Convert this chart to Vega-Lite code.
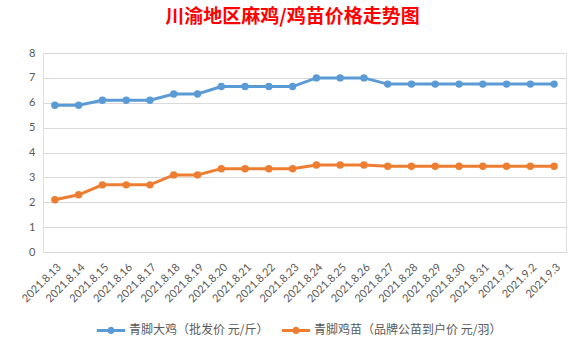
{
  "$schema": "https://vega.github.io/schema/vega-lite/v6.json",
  "width": 523,
  "height": 199,
  "autosize": {"type": "none"},
  "padding": {"left": 43, "top": 53, "right": 19, "bottom": 97},
  "background": "white",
  "title": {
    "text": "川渝地区麻鸡/鸡苗价格走势图",
    "color": "#FF0000",
    "font": "Noto Sans CJK SC",
    "fontSize": 19,
    "fontWeight": "bold",
    "anchor": "middle",
    "offset": 20,
    "dx": -12
  },
  "data": {
    "values": [
      {"date": "2021.8.13", "series": "青脚大鸡（批发价 元/斤）", "price": 5.9},
      {"date": "2021.8.14", "series": "青脚大鸡（批发价 元/斤）", "price": 5.9},
      {"date": "2021.8.15", "series": "青脚大鸡（批发价 元/斤）", "price": 6.1},
      {"date": "2021.8.16", "series": "青脚大鸡（批发价 元/斤）", "price": 6.1},
      {"date": "2021.8.17", "series": "青脚大鸡（批发价 元/斤）", "price": 6.1},
      {"date": "2021.8.18", "series": "青脚大鸡（批发价 元/斤）", "price": 6.35},
      {"date": "2021.8.19", "series": "青脚大鸡（批发价 元/斤）", "price": 6.35},
      {"date": "2021.8.20", "series": "青脚大鸡（批发价 元/斤）", "price": 6.65},
      {"date": "2021.8.21", "series": "青脚大鸡（批发价 元/斤）", "price": 6.65},
      {"date": "2021.8.22", "series": "青脚大鸡（批发价 元/斤）", "price": 6.65},
      {"date": "2021.8.23", "series": "青脚大鸡（批发价 元/斤）", "price": 6.65},
      {"date": "2021.8.24", "series": "青脚大鸡（批发价 元/斤）", "price": 7.0},
      {"date": "2021.8.25", "series": "青脚大鸡（批发价 元/斤）", "price": 7.0},
      {"date": "2021.8.26", "series": "青脚大鸡（批发价 元/斤）", "price": 7.0},
      {"date": "2021.8.27", "series": "青脚大鸡（批发价 元/斤）", "price": 6.75},
      {"date": "2021.8.28", "series": "青脚大鸡（批发价 元/斤）", "price": 6.75},
      {"date": "2021.8.29", "series": "青脚大鸡（批发价 元/斤）", "price": 6.75},
      {"date": "2021.8.30", "series": "青脚大鸡（批发价 元/斤）", "price": 6.75},
      {"date": "2021.8.31", "series": "青脚大鸡（批发价 元/斤）", "price": 6.75},
      {"date": "2021.9.1", "series": "青脚大鸡（批发价 元/斤）", "price": 6.75},
      {"date": "2021.9.2", "series": "青脚大鸡（批发价 元/斤）", "price": 6.75},
      {"date": "2021.9.3", "series": "青脚大鸡（批发价 元/斤）", "price": 6.75},
      {"date": "2021.8.13", "series": "青脚鸡苗（品牌公苗到户价 元/羽）", "price": 2.1},
      {"date": "2021.8.14", "series": "青脚鸡苗（品牌公苗到户价 元/羽）", "price": 2.3},
      {"date": "2021.8.15", "series": "青脚鸡苗（品牌公苗到户价 元/羽）", "price": 2.7},
      {"date": "2021.8.16", "series": "青脚鸡苗（品牌公苗到户价 元/羽）", "price": 2.7},
      {"date": "2021.8.17", "series": "青脚鸡苗（品牌公苗到户价 元/羽）", "price": 2.7},
      {"date": "2021.8.18", "series": "青脚鸡苗（品牌公苗到户价 元/羽）", "price": 3.1},
      {"date": "2021.8.19", "series": "青脚鸡苗（品牌公苗到户价 元/羽）", "price": 3.1},
      {"date": "2021.8.20", "series": "青脚鸡苗（品牌公苗到户价 元/羽）", "price": 3.35},
      {"date": "2021.8.21", "series": "青脚鸡苗（品牌公苗到户价 元/羽）", "price": 3.35},
      {"date": "2021.8.22", "series": "青脚鸡苗（品牌公苗到户价 元/羽）", "price": 3.35},
      {"date": "2021.8.23", "series": "青脚鸡苗（品牌公苗到户价 元/羽）", "price": 3.35},
      {"date": "2021.8.24", "series": "青脚鸡苗（品牌公苗到户价 元/羽）", "price": 3.5},
      {"date": "2021.8.25", "series": "青脚鸡苗（品牌公苗到户价 元/羽）", "price": 3.5},
      {"date": "2021.8.26", "series": "青脚鸡苗（品牌公苗到户价 元/羽）", "price": 3.5},
      {"date": "2021.8.27", "series": "青脚鸡苗（品牌公苗到户价 元/羽）", "price": 3.45},
      {"date": "2021.8.28", "series": "青脚鸡苗（品牌公苗到户价 元/羽）", "price": 3.45},
      {"date": "2021.8.29", "series": "青脚鸡苗（品牌公苗到户价 元/羽）", "price": 3.45},
      {"date": "2021.8.30", "series": "青脚鸡苗（品牌公苗到户价 元/羽）", "price": 3.45},
      {"date": "2021.8.31", "series": "青脚鸡苗（品牌公苗到户价 元/羽）", "price": 3.45},
      {"date": "2021.9.1", "series": "青脚鸡苗（品牌公苗到户价 元/羽）", "price": 3.45},
      {"date": "2021.9.2", "series": "青脚鸡苗（品牌公苗到户价 元/羽）", "price": 3.45},
      {"date": "2021.9.3", "series": "青脚鸡苗（品牌公苗到户价 元/羽）", "price": 3.45}
    ]
  },
  "mark": {"type": "line", "strokeWidth": 3, "point": {"filled": true, "size": 55, "opacity": 1}},
  "encoding": {
    "x": {
      "field": "date",
      "type": "ordinal",
      "sort": null,
      "scale": {"type": "point", "padding": 0.5},
      "axis": {
        "title": null,
        "labelAngle": -45,
        "labelFont": "Lato",
        "labelFontSize": 11,
        "labelColor": "#595959",
        "ticks": false,
        "domain": true,
        "domainColor": "#D9D9D9",
        "grid": false,
        "labelPadding": 9,
        "labelDx": 3
      }
    },
    "y": {
      "field": "price",
      "type": "quantitative",
      "scale": {"domain": [0, 8]},
      "axis": {
        "title": null,
        "values": [0, 1, 2, 3, 4, 5, 6, 7, 8],
        "labelFont": "Lato",
        "labelFontSize": 11,
        "labelColor": "#595959",
        "ticks": false,
        "domain": false,
        "gridColor": "#D9D9D9",
        "labelPadding": 8
      }
    },
    "color": {
      "field": "series",
      "type": "nominal",
      "sort": null,
      "scale": {
        "domain": ["青脚大鸡（批发价 元/斤）", "青脚鸡苗（品牌公苗到户价 元/羽）"],
        "range": ["#5B9BD5", "#ED7D31"]
      },
      "legend": {
        "title": null,
        "orient": "none",
        "legendX": 52,
        "legendY": 261,
        "direction": "horizontal",
        "labelFont": "Noto Sans CJK SC",
        "labelFontSize": 12,
        "labelColor": "#595959",
        "labelLimit": 0,
        "symbolType": "M-1,0 L1,0 M-0.15,0 A0.15,0.15 0 1,1 0.15,0 A0.15,0.15 0 1,1 -0.15,0 Z",
        "symbolSize": 800,
        "symbolStrokeWidth": 3,
        "symbolOpacity": 1,
        "labelOffset": 2,
        "columnPadding": 6
      }
    }
  }
}
